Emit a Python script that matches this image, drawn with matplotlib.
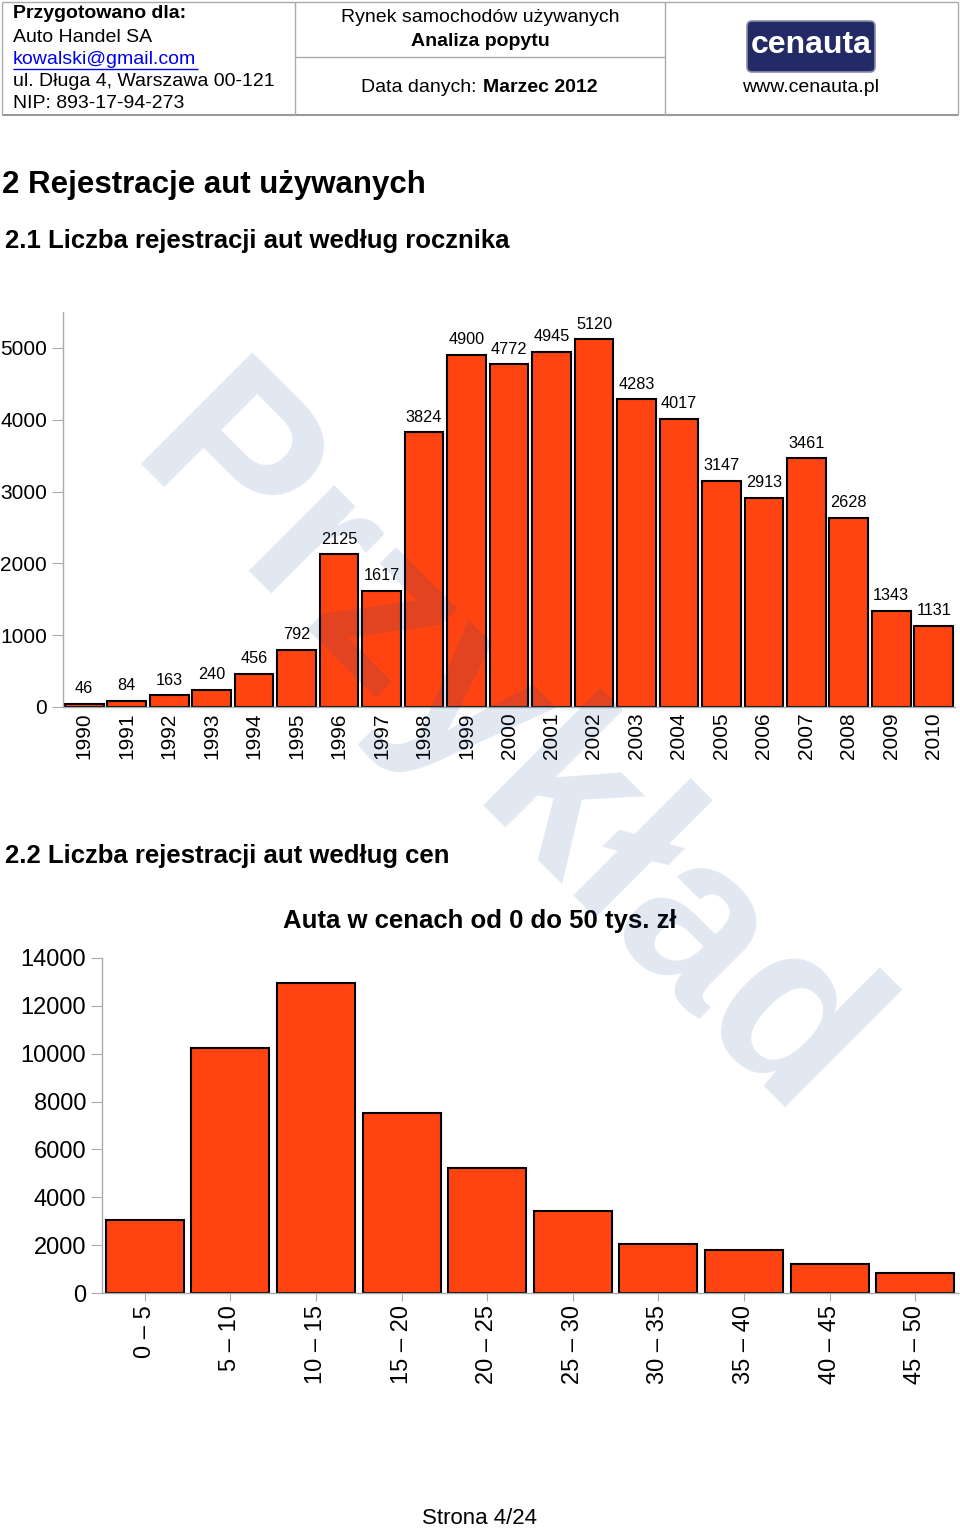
import matplotlib
matplotlib.use('Agg')
import matplotlib.pyplot as plt
from matplotlib.patches import FancyBboxPatch

# ---------------- data ----------------
years = ['1990', '1991', '1992', '1993', '1994', '1995', '1996', '1997', '1998', '1999',
         '2000', '2001', '2002', '2003', '2004', '2005', '2006', '2007', '2008', '2009', '2010']
year_counts = [46, 84, 163, 240, 456, 792, 2125, 1617, 3824, 4900,
               4772, 4945, 5120, 4283, 4017, 3147, 2913, 3461, 2628, 1343, 1131]
year_yticks = [0, 1000, 2000, 3000, 4000, 5000]

price_ranges = ['0 – 5', '5 – 10', '10 – 15', '15 – 20', '20 – 25',
                '25 – 30', '30 – 35', '35 – 40', '40 – 45', '45 – 50']
price_counts = [3050, 10250, 12950, 7530, 5220, 3440, 2030, 1800, 1220, 850]
price_yticks = [0, 2000, 4000, 6000, 8000, 10000, 12000, 14000]

# ---------------- style ----------------
plt.rcParams['font.family'] = ['Liberation Sans', 'DejaVu Sans']
BAR = '#FF4411'
GRAY = '#aaaaaa'
W, H = 960, 1528

fig = plt.figure(figsize=(9.6, 15.28), dpi=100)
fig.patch.set_facecolor('white')

# pixel-coordinate overlay for page elements
ax0 = fig.add_axes([0, 0, 1, 1], zorder=-1)
ax0.set_xlim(0, W)
ax0.set_ylim(H, 0)
ax0.axis('off')

def line(x1, y1, x2, y2, c=GRAY, lw=1.0):
    ax0.plot([x1, x2], [y1, y2], color=c, lw=lw, solid_capstyle='butt')

# header table
line(2, 2, 958, 2)
line(2, 115, 958, 115, c='#999999', lw=1.5)
line(2, 2, 2, 115)
line(958, 2, 958, 115)
line(295, 2, 295, 115)
line(665, 2, 665, 115)
line(295, 57, 665, 57)

hs = 14
ax0.text(13, 14, 'Przygotowano dla:', fontsize=hs, fontweight='bold', va='center', ha='left')
ax0.text(13, 37, 'Auto Handel SA', fontsize=hs, va='center', ha='left')
ax0.text(13, 59, 'kowalski@gmail.com', fontsize=hs, va='center', ha='left', color='#0000ee')
line(13, 69, 198, 69, c='#0000ee', lw=1.0)
ax0.text(13, 82, 'ul. Długa 4, Warszawa 00-121', fontsize=hs, va='center', ha='left')
ax0.text(13, 104, 'NIP: 893-17-94-273', fontsize=hs, va='center', ha='left')

ax0.text(480, 18, 'Rynek samochodów używanych', fontsize=hs, va='center', ha='center')
ax0.text(480, 41, 'Analiza popytu', fontsize=hs, fontweight='bold', va='center', ha='center')
ax0.text(482, 87, 'Data danych: ', fontsize=hs, va='center', ha='right')
ax0.text(483, 87, 'Marzec 2012', fontsize=hs, fontweight='bold', va='center', ha='left')

logo = FancyBboxPatch((747, 21), 128, 51, boxstyle='round,pad=0,rounding_size=5',
                      facecolor='#242a66', edgecolor='#8a8fa8', lw=1.2)
ax0.add_patch(logo)
ax0.text(811, 45, 'cenauta', fontsize=23, fontweight='bold', color='white', va='center', ha='center')
ax0.text(811, 87, 'www.cenauta.pl', fontsize=hs, va='center', ha='center')

# headings
ax0.text(2, 185, '2 Rejestracje aut używanych', fontsize=22.5, fontweight='bold', va='center', ha='left')
ax0.text(5, 241, '2.1 Liczba rejestracji aut według rocznika', fontsize=18.5, fontweight='bold', va='center', ha='left')
ax0.text(5, 856, '2.2 Liczba rejestracji aut według cen', fontsize=18.5, fontweight='bold', va='center', ha='left')
ax0.text(480, 921, 'Auta w cenach od 0 do 50 tys. zł', fontsize=18.5, fontweight='bold', va='center', ha='center')
ax0.text(480, 1518, 'Strona 4/24', fontsize=16, va='center', ha='center')

def style_axes(ax):
    ax.set_facecolor('none')
    for s in ['top', 'right']:
        ax.spines[s].set_visible(False)
    for s in ['left', 'bottom']:
        ax.spines[s].set_color(GRAY)
        ax.spines[s].set_linewidth(1.0)

# ---------------- chart 1 ----------------
ax1 = fig.add_axes([63 / W, 1 - 707 / H, 892 / W, 395 / H])
style_axes(ax1)
x1 = list(range(len(years)))
ax1.bar(x1, year_counts, width=0.91, color=BAR, edgecolor='black', linewidth=1.5, zorder=2)
ax1.set_xlim(-0.5, len(years) - 0.5)
ax1.set_ylim(0, 5500)
ax1.set_yticks(year_yticks)
ax1.set_xticks(x1)
ax1.set_xticklabels(years, rotation=90)
ax1.tick_params(axis='y', length=8, color=GRAY, labelsize=15, pad=3.5)
ax1.tick_params(axis='x', length=0, labelsize=15, pad=4)
for xi, v in zip(x1, year_counts):
    ax1.annotate(str(v), (xi, v), xytext=(0, 11), textcoords='offset points',
                 ha='center', va='center', fontsize=11.7)

# ---------------- chart 2 ----------------
ax2 = fig.add_axes([102 / W, 1 - 1293 / H, 856 / W, 335 / H])
style_axes(ax2)
x2 = list(range(len(price_ranges)))
ax2.bar(x2, price_counts, width=0.91, color=BAR, edgecolor='black', linewidth=1.5, zorder=2)
ax2.set_xlim(-0.5, len(price_ranges) - 0.5)
ax2.set_ylim(0, 14000)
ax2.set_yticks(price_yticks)
ax2.set_xticks(x2)
ax2.set_xticklabels(price_ranges, rotation=90)
ax2.tick_params(axis='y', length=8, color=GRAY, labelsize=17, pad=3.5)
ax2.tick_params(axis='x', length=6, color=GRAY, labelsize=17, pad=3)

# ---------------- watermark ----------------
fig.text(500 / W, 1 - 754 / H, 'Przykład', fontsize=165, fontweight='bold',
         rotation=-45, rotation_mode='anchor', ha='center', va='center',
         color='#1a4a9a', alpha=0.13, zorder=10)

fig.savefig('out.png', dpi=100, facecolor='white')
